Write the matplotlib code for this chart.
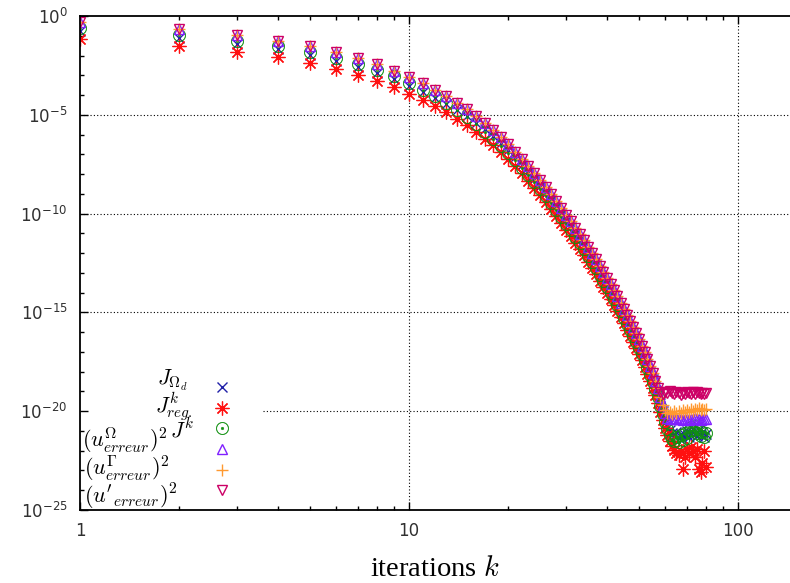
import matplotlib
matplotlib.use("Agg")
import matplotlib.pyplot as plt
import numpy as np
from matplotlib import ticker

plt.rcParams["mathtext.fontset"] = "cm"

# iteration index
k = np.arange(1, 81)

# log10 of each quantity
log_J_omega = [
    -0.75, -1.11, -1.41, -1.69, -1.97, -2.27, -2.59, -2.90, -3.21, -3.53,
    -3.83, -4.13, -4.44, -4.75, -5.07, -5.40, -5.73, -6.08, -6.44, -6.80,
    -7.16, -7.52, -7.88, -8.24, -8.60, -8.96, -9.32, -9.67, -10.02, -10.36,
    -10.69, -11.02, -11.34, -11.66, -11.98, -12.30, -12.62, -12.94, -13.25, -13.56,
    -13.87, -14.18, -14.49, -14.80, -15.11, -15.42, -15.73, -16.04, -16.35, -16.66,
    -16.98, -17.32, -17.66, -18.01, -18.37, -18.75, -19.15, -19.57, -20.00, -20.40,
    -20.70, -20.95, -21.10, -21.25, -21.05, -21.35, -21.15, -21.40, -21.20, -21.00,
    -21.30, -21.10, -20.90, -21.15, -21.25, -20.95, -21.20, -21.05, -21.30, -21.15]
log_J_reg = [
    -1.15, -1.51, -1.81, -2.09, -2.37, -2.67, -2.99, -3.30, -3.61, -3.93,
    -4.24, -4.55, -4.87, -5.19, -5.52, -5.86, -6.20, -6.55, -6.90, -7.25,
    -7.61, -7.97, -8.33, -8.69, -9.05, -9.41, -9.77, -10.12, -10.47, -10.81,
    -11.14, -11.47, -11.79, -12.11, -12.43, -12.75, -13.07, -13.39, -13.70, -14.01,
    -14.32, -14.63, -14.94, -15.25, -15.56, -15.87, -16.18, -16.49, -16.80, -17.11,
    -17.43, -17.77, -18.11, -18.46, -18.82, -19.20, -19.60, -20.02, -20.45, -20.85,
    -21.20, -21.50, -21.75, -21.95, -22.10, -22.20, -22.00, -22.90, -22.30, -21.90,
    -22.10, -21.80, -22.00, -22.30, -21.90, -22.90, -23.10, -22.60, -22.00, -22.80]
log_J_k = [
    -0.60, -0.96, -1.26, -1.54, -1.82, -2.12, -2.44, -2.75, -3.06, -3.38,
    -3.72, -4.06, -4.41, -4.76, -5.12, -5.49, -5.86, -6.23, -6.59, -6.95,
    -7.31, -7.67, -8.03, -8.39, -8.75, -9.11, -9.47, -9.82, -10.17, -10.51,
    -10.84, -11.17, -11.49, -11.81, -12.13, -12.45, -12.77, -13.09, -13.40, -13.71,
    -14.02, -14.33, -14.64, -14.95, -15.26, -15.57, -15.88, -16.19, -16.50, -16.81,
    -17.13, -17.47, -17.81, -18.16, -18.52, -18.90, -19.30, -19.72, -20.15, -20.55,
    -20.90, -21.20, -21.40, -21.50, -21.30, -21.55, -21.20, -21.45, -21.10, -21.35,
    -21.00, -20.80, -20.95, -20.75, -21.10, -20.90, -21.25, -21.05, -21.30, -21.10]
log_u_omega = [
    -0.30, -0.66, -0.96, -1.24, -1.52, -1.82, -2.14, -2.45, -2.76, -3.08,
    -3.40, -3.72, -4.05, -4.38, -4.72, -5.07, -5.42, -5.78, -6.14, -6.50,
    -6.86, -7.22, -7.58, -7.94, -8.30, -8.66, -9.02, -9.37, -9.72, -10.06,
    -10.39, -10.72, -11.04, -11.36, -11.68, -12.00, -12.32, -12.64, -12.95, -13.26,
    -13.57, -13.88, -14.19, -14.50, -14.81, -15.12, -15.43, -15.74, -16.05, -16.36,
    -16.68, -17.02, -17.36, -17.71, -18.07, -18.45, -18.85, -19.27, -19.70, -20.10,
    -20.32, -20.40, -20.38, -20.42, -20.36, -20.41, -20.39, -20.44, -20.37, -20.40,
    -20.43, -20.38, -20.41, -20.36, -20.42, -20.39, -20.44, -20.40, -20.37, -20.41]
log_u_gamma = [
    -0.30, -0.66, -0.96, -1.24, -1.52, -1.82, -2.14, -2.45, -2.76, -3.08,
    -3.40, -3.72, -4.05, -4.38, -4.72, -5.07, -5.42, -5.78, -6.14, -6.50,
    -6.86, -7.22, -7.58, -7.94, -8.30, -8.66, -9.02, -9.37, -9.72, -10.06,
    -10.39, -10.72, -11.04, -11.36, -11.68, -12.00, -12.32, -12.64, -12.95, -13.26,
    -13.57, -13.88, -14.19, -14.50, -14.81, -15.12, -15.43, -15.74, -16.05, -16.36,
    -16.68, -17.02, -17.36, -17.71, -18.07, -18.45, -18.85, -19.27, -19.70, -19.95,
    -20.10, -20.02, -20.12, -19.98, -20.08, -20.00, -20.10, -19.95, -20.05, -19.92,
    -20.02, -19.90, -19.98, -19.88, -19.96, -19.86, -19.94, -19.88, -19.92, -19.90]
log_u_prime = [
    -0.30, -0.66, -0.96, -1.24, -1.52, -1.82, -2.14, -2.45, -2.76, -3.08,
    -3.40, -3.72, -4.05, -4.38, -4.72, -5.07, -5.42, -5.78, -6.14, -6.50,
    -6.86, -7.22, -7.58, -7.94, -8.30, -8.66, -9.02, -9.37, -9.72, -10.06,
    -10.39, -10.72, -11.04, -11.36, -11.68, -12.00, -12.32, -12.64, -12.95, -13.26,
    -13.57, -13.88, -14.19, -14.50, -14.81, -15.12, -15.43, -15.74, -16.05, -16.36,
    -16.68, -17.02, -17.36, -17.71, -18.07, -18.45, -18.85, -19.05, -19.12, -19.02,
    -19.10, -19.00, -19.08, -19.14, -19.04, -19.10, -19.16, -19.06, -19.12, -19.02,
    -19.09, -19.15, -19.05, -19.11, -19.03, -19.10, -19.14, -19.06, -19.11, -19.08]

labels = [r"$J_{\Omega_d}$", r"$J^k_{reg.}$", r"$J^k$",
          r"$(u^\Omega_{erreur})^2$", r"$(u^\Gamma_{erreur})^2$",
          r"$(u'_{erreur})^2$"]

fig = plt.figure(figsize=(7.9, 5.83), dpi=100)
ax = fig.add_axes([80 / 790, 73 / 583, 710 / 790, 494 / 583])

styles = [
    dict(marker="x", color="#2020a8", ms=7, mew=1.0),
    dict(marker=(8, 2, 0), color="#ff1010", ms=10, mew=0.9),
    dict(marker=r"$\odot$", color="#109010", ms=9, mew=0.3),
    dict(marker="^", color="#8020ff", ms=7, mew=1.0, mfc="none"),
    dict(marker="+", color="#ff9930", ms=8, mew=1.0),
    dict(marker="v", color="#cc0066", ms=7, mew=1.0, mfc="none"),
]
series = [log_J_omega, log_J_reg, log_J_k, log_u_omega, log_u_gamma, log_u_prime]

handles = []
for vals, st in zip(series, styles):
    [h] = ax.plot(k, np.power(10.0, vals), linestyle="none", **st)
    handles.append(h)

ax.set_xscale("log")
ax.set_yscale("log")
ax.set_xlim(1, 10 ** (710 / 329))
ax.set_ylim(1e-25, 1)

ax.yaxis.set_major_locator(ticker.FixedLocator([10.0 ** -e for e in range(0, 26, 5)]))
ax.yaxis.set_minor_locator(ticker.FixedLocator([10.0 ** -e for e in range(0, 26)]))
ax.yaxis.set_major_formatter(ticker.LogFormatterSciNotation())
ax.yaxis.set_minor_formatter(ticker.NullFormatter())
ax.xaxis.set_major_formatter(ticker.FormatStrFormatter("%g"))
ax.xaxis.set_minor_formatter(ticker.NullFormatter())

ax.tick_params(which="both", direction="in", top=True, right=False,
               labelsize=12, labelcolor="#303030", width=1.0, pad=9)
ax.tick_params(which="major", length=6)
ax.tick_params(which="minor", length=3)
for side in ["left", "top", "bottom"]:
    ax.spines[side].set_linewidth(1.3)
ax.spines["right"].set_visible(False)

# dotted grid, the lowest one stops short of the key
grid = dict(color="black", lw=0.8, linestyle=(0, (1, 2)), zorder=1)
for xv in [10, 100]:
    ax.axvline(xv, **grid)
for yv in [1e-5, 1e-10, 1e-15]:
    ax.axhline(yv, **grid)
ax.axhline(1e-20, xmin=(263 - 80) / 710, **grid)

ax.set_xlabel(r"iterations $k$", fontsize=20.5, family="Liberation Serif", labelpad=12)

ax.legend(handles, [""] * 6, loc="center", bbox_to_anchor=(0.2, 0.1427),
          frameon=False, handletextpad=0, handlelength=1.0, labelspacing=0.48,
          fontsize=10, borderpad=0)

# key texts, placed like the original
text_x = [0.152, 0.159, 0.161, 0.124, 0.127, 0.138]
text_y = [0.262, 0.210, 0.163, 0.140, 0.083, 0.026]
text_size = [15.5, 15.5, 15.5, 16, 16, 16]
for lab, tx, ty, fs in zip(labels, text_x, text_y, text_size):
    ax.text(tx, ty, lab, transform=ax.transAxes, ha="right", va="center", fontsize=fs)

fig.savefig("out.png", dpi=100)
